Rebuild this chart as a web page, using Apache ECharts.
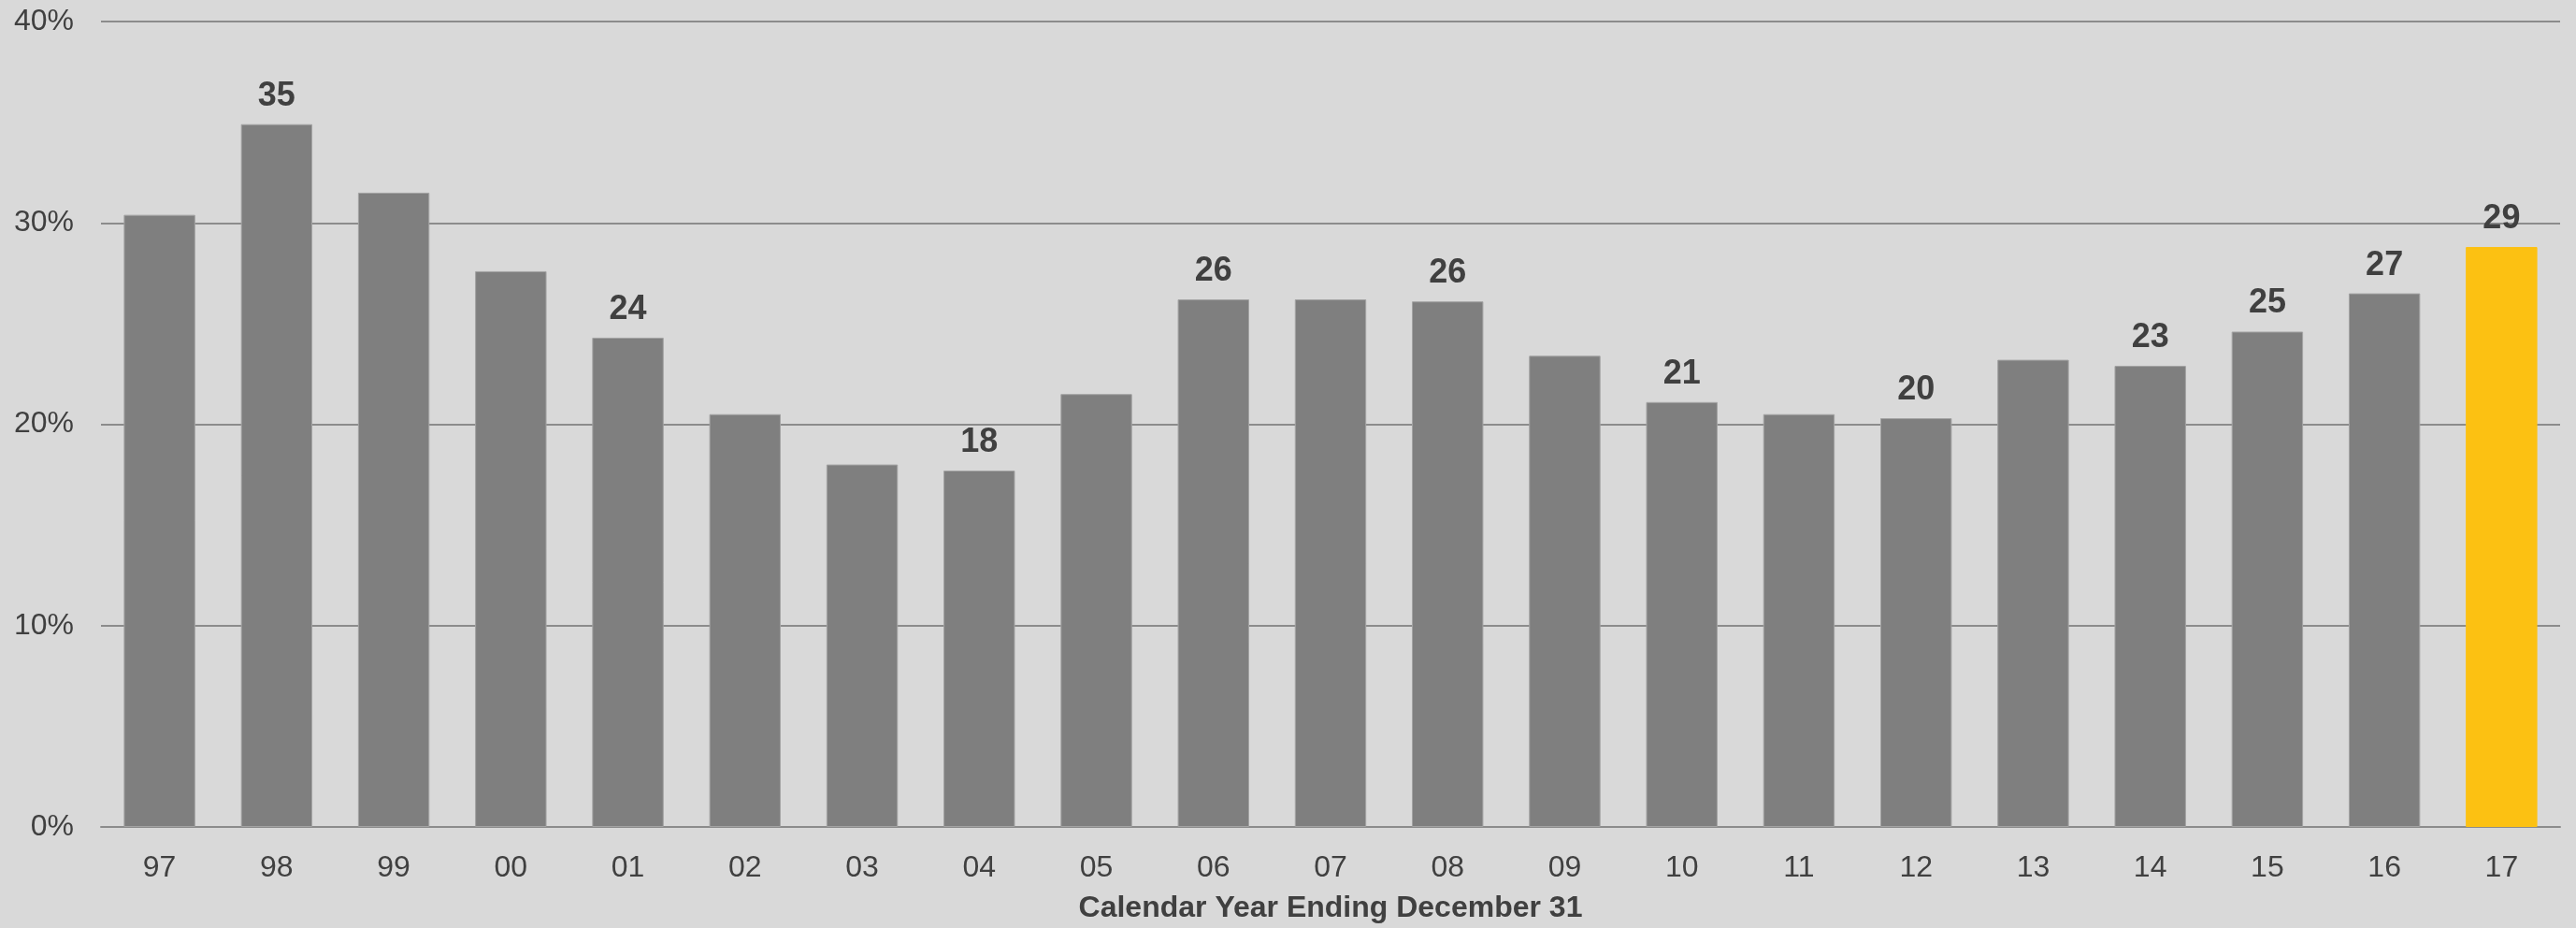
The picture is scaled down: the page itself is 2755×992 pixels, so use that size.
<!DOCTYPE html>
<html>
<head>
<meta charset="utf-8">
<script src="https://cdn.jsdelivr.net/npm/echarts@6/dist/echarts.min.js"></script>
<style>
html,body{margin:0;padding:0;background:#d9d9d9;}
#chart{width:2755px;height:992px;}
</style>
</head>
<body>
<div id="chart"></div>
<script>
var categories = ['97','98','99','00','01','02','03','04','05','06','07','08','09','10','11','12','13','14','15','16','17'];
var values = [30.4,34.9,31.5,27.6,24.3,20.5,18.0,17.7,21.5,26.2,26.2,26.1,23.4,21.1,20.5,20.3,23.2,22.9,24.6,26.5,28.8];
var labelShown = [false,true,false,false,true,false,false,true,false,true,false,true,false,true,false,true,false,true,true,true,true];
var highlightIndex = 20;
var yTicks = [0,10,20,30,40];

var chart = echarts.init(document.getElementById('chart'), null, {renderer:'canvas'});
var font = "'Liberation Sans', Arial, sans-serif";
var data = values.map(function(v,i){
  var item = {value:v};
  if (i === highlightIndex) item.itemStyle = {color:'#fcc112', borderColor:'#fcc112'};
  item.label = {show: labelShown[i]};
  return item;
});
chart.setOption({
  backgroundColor:'#d9d9d9',
  animation:false,
  grid:{left:108,right:17,top:23,bottom:102},
  xAxis:{
    type:'category',
    data:categories,
    axisTick:{show:false},
    axisLine:{lineStyle:{color:'#8c8c8c',width:2}},
    axisLabel:{color:'#404040',fontSize:32,fontFamily:font,margin:28},
    name:'Calendar Year Ending December 31',
    nameLocation:'middle',
    nameGap:71,
    nameTextStyle:{color:'#404040',fontSize:32,fontWeight:'bold',fontFamily:font}
  },
  yAxis:{
    type:'value',
    min:yTicks[0],
    max:yTicks[yTicks.length-1],
    interval:10,
    axisLine:{show:false},
    axisTick:{show:false},
    splitLine:{lineStyle:{color:'#8c8c8c',width:2}},
    axisLabel:{color:'#404040',fontSize:32,fontFamily:font,margin:29,formatter:'{value}%'}
  },
  series:[{
    type:'bar',
    data:data,
    barCategoryGap:'39%',
    itemStyle:{color:'#7f7f7f',borderColor:'#a3a3a3',borderWidth:1},
    label:{position:'top',distance:12,color:'#404040',fontSize:36,fontWeight:'bold',fontFamily:font,
      formatter:function(p){return Math.round(p.value);}}
  }]
});
</script>
</body>
</html>
